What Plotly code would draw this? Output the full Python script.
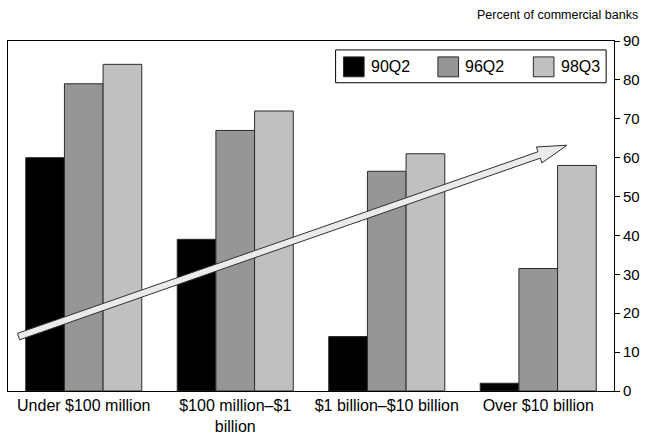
import plotly.graph_objects as go

# Share of commercial banks, by asset size, across three survey dates
categories = ["Under $100 million", "$100 million–$1<br>billion",
              "$1 billion–$10 billion", "Over $10 billion"]
series_names = ["90Q2", "96Q2", "98Q3"]
values_90q2 = [60, 39, 14, 2]
values_96q2 = [79, 67, 56.5, 31.5]
values_98q3 = [84, 72, 61, 58]
y_ticks = [0, 10, 20, 30, 40, 50, 60, 70, 80, 90]

colors = ["#000000", "#969696", "#c0c0c0"]
FONT = "Liberation Sans, Arial, sans-serif"

# page geometry (pixels)
W, H = 647, 442
L, R, T, B = 7, 623, 41, 393
Y_MAX = 90


def paper(px, py):
    return (px - L) / (R - L), (B - py) / (B - T)


def data_px(x, y):
    return L + (x + 0.5) * (R - L) / len(categories), B - y * (B - T) / Y_MAX


fig = go.Figure()
for name, vals, col in zip(series_names, [values_90q2, values_96q2, values_98q3], colors):
    fig.add_trace(go.Bar(
        x=categories, y=vals, name=name,
        marker=dict(color=col, line=dict(color="#2b2b2b", width=1)),
        showlegend=False,
    ))

shapes = []
annotations = []

# trend arrow, from the first group up to the last
arrow_tail = (-0.43, 14)
arrow_tip = (3.19, 63.2)
tx, ty = data_px(*arrow_tail)
hx, hy = data_px(*arrow_tip)
dx, dy = hx - tx, hy - ty
ln = (dx * dx + dy * dy) ** 0.5
ux, uy = dx / ln, dy / ln
nx, ny = -uy, ux
shaft_w, head_w, head_len = 3.4, 8.5, 30.0
bx, by = hx - ux * head_len, hy - uy * head_len
pts = [
    (tx + nx * shaft_w, ty + ny * shaft_w),
    (bx + nx * shaft_w, by + ny * shaft_w),
    (bx + nx * head_w, by + ny * head_w),
    (hx, hy),
    (bx - nx * head_w, by - ny * head_w),
    (bx - nx * shaft_w, by - ny * shaft_w),
    (tx - nx * shaft_w, ty - ny * shaft_w),
]
path = "M " + " L ".join("%.5f,%.5f" % paper(px, py) for px, py in pts) + " Z"
shapes.append(dict(type="path", path=path, xref="paper", yref="paper",
                   fillcolor="#ebebeb", line=dict(color="#303030", width=1)))

# legend box
lx0, ly0 = paper(340, 50)
lx1, ly1 = paper(615, 83)
shapes.append(dict(type="rect", xref="paper", yref="paper", x0=lx0, y0=ly0, x1=lx1, y1=ly1,
                   fillcolor="white", line=dict(color="#000000", width=1)))
swatch_left = [348, 444, 541]
for name, col, sx in zip(series_names, colors, swatch_left):
    x0, y0 = paper(sx, 57)
    x1, y1 = paper(sx + 21, 77)
    shapes.append(dict(type="rect", xref="paper", yref="paper", x0=x0, y0=y0, x1=x1, y1=y1,
                       fillcolor=col, line=dict(color="#2b2b2b", width=1)))
    ax, ay = paper(sx + 26, 67)
    annotations.append(dict(text=name, xref="paper", yref="paper", x=ax, y=ay,
                            xanchor="left", yanchor="middle", showarrow=False,
                            font=dict(family=FONT, size=16, color="#000000")))

# axis caption above the right-hand scale
cx, cy = paper(649, 15)
annotations.append(dict(text="Percent of commercial banks", xref="paper", yref="paper",
                        x=cx, y=cy, xanchor="right", yanchor="middle", showarrow=False,
                        font=dict(family=FONT, size=12.5, color="#000000")))

fig.update_layout(
    width=W, height=H,
    margin=dict(l=L, r=W - R, t=T, b=H - B, pad=0),
    plot_bgcolor="white", paper_bgcolor="white",
    barmode="group", bargap=0.234, bargroupgap=0,
    font=dict(family=FONT, size=15, color="#000000"),
    shapes=shapes, annotations=annotations,
    xaxis=dict(showline=True, mirror=True, linecolor="#000000", linewidth=1,
               ticks="", showgrid=False, tickfont=dict(size=16), fixedrange=True),
    yaxis=dict(side="right", range=[0, Y_MAX], tickvals=y_ticks, showgrid=False,
               zeroline=False, showline=True, mirror=True, linecolor="#000000",
               linewidth=1, ticks="outside", ticklen=5, tickcolor="#000000",
               tickfont=dict(size=15)),
)

fig.write_html("out.html")
